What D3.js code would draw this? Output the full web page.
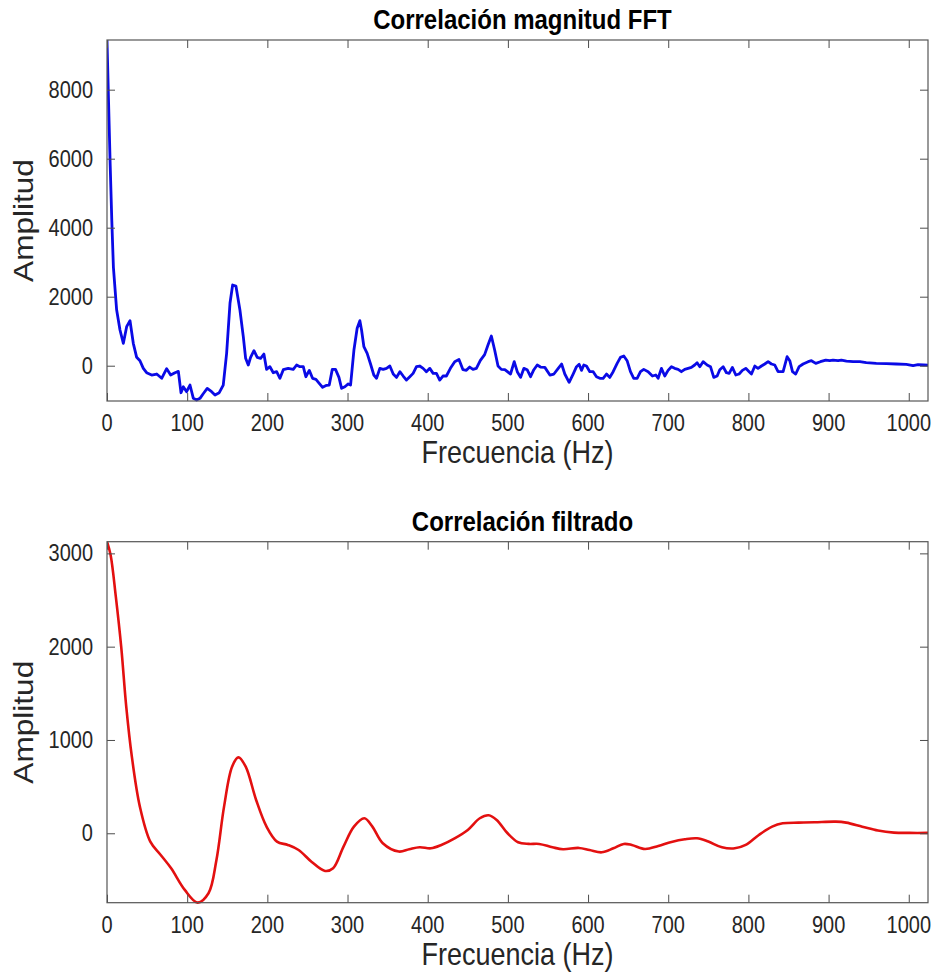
<!DOCTYPE html>
<html>
<head>
<meta charset="utf-8">
<script src="https://cdn.jsdelivr.net/npm/d3@7"></script>
<style>
html,body{margin:0;padding:0;background:#fff;}
svg{display:block;font-family:"Liberation Sans",Arial,Helvetica,sans-serif;}
</style>
</head>
<body>
<svg id="chart" width="939" height="978"></svg>
<script>
// ---- Data ----
const fftFreq = [0,2,4,6,8,12,16.2,20.4,24.5,28.7,32.8,37,41.1,45.3,49.4,55.7,62,68.2,74.4,79.4,84.8,89,92.3,95.2,99.3,103.5,107.7,111.8,116,120,125,130.5,134.7,140,145,149.2,153.4,156.7,160.8,165.8,170,172.9,176.2,179.1,183.3,187.4,191.6,195.7,199,203.2,207.4,211.6,215.7,219.9,226,232.3,236.5,240.6,244.8,248,252.3,256.4,260.6,264.7,268.9,273.9,277.2,281,285,289.3,292.6,296.7,300.9,303.8,308,312,315.4,317.5,320.4,324.5,328.7,332.8,336.2,340.3,344.5,348.6,352.8,357,361,365.3,369.4,373.5,377.7,381.8,386,390,394.3,398.4,402.6,406.8,410.9,415,419,423.3,428.3,433.7,439,444,448.2,452.4,456.5,460.7,465.7,471,475.2,479.4,483.5,487.7,491.8,496.2,503.3,507.9,511.7,515.8,520,524,528.3,532.4,536.6,540.7,546.1,552.4,557.4,562.8,567,571,576.4,581.4,585.6,588.9,591.8,594.7,598,602.2,606.4,610.5,614.7,618.8,623,627,631.3,636.3,640.4,644.6,648.7,652.9,657,661.2,665.4,669.5,674.9,680.3,684.5,687.4,691.5,695.7,699.8,704,708,712.3,716.4,720.6,724.8,728.9,733,736,739.4,743.5,748.5,752.7,756.8,761,764.3,768.5,772.6,776,780,784.3,788.4,792.5,796.7,800.9,803.8,808,812,816.3,820.4,824.6,828.7,832.9,837,843.3,848.3,851.6,855,859,863.3,868.2,874.5,878.6,884,889.8,896.5,901.4,905.6,911.8,916,922.3,930.6,939,947,959.5,972,984.5,997,1005.4,1011.6,1018.7,1024];
const fftAmp = [9440,7600,5800,4200,2850,1620,1035,649,1131,1305,649,243,145,-77,-203,-270,-241,-365,-87,-270,-203,-165,-783,-609,-754,-560,-946,-995,-946,-812,-657,-754,-850,-783,-560,359,1809,2340,2310,1615,841,214,20,243,435,243,214,339,-104,-29,-203,-174,-365,-116,-77,-106,20,-29,-29,-319,-135,-365,-394,-510,-626,-568,-560,-106,-106,-339,-657,-609,-529,-560,455,1084,1305,1035,551,359,49,-270,-365,-77,-106,-77,-9,-241,-339,-174,-299,-416,-319,-222,-29,-9,-77,-174,-77,-222,-222,-416,-299,-299,-77,116,183,-116,-135,-39,-106,-77,155,320,600,861,455,-9,-106,-116,-241,116,-174,-339,-77,-116,-319,-116,20,-39,-48,-270,-241,-77,49,-241,-482,-241,-29,39,-135,20,-9,-174,-174,-319,-365,-365,-241,-339,-174,68,242,280,145,-174,-365,-365,-174,-106,-174,-299,-270,-365,-77,-299,-135,-29,-77,-106,-174,-106,-77,-48,20,87,-29,116,20,-29,-339,-299,-116,-29,-203,-222,-48,-270,-241,-135,-77,-174,-241,-9,-77,-9,49,116,49,20,-174,-174,261,145,-174,-241,-29,49,116,145,68,116,164,145,164,145,164,135,116,116,87,68,58,49,39,0,29,20,15];

const filtFreq = [0,4.5,11,17.7,24,31,41,54,67,80,97,113,126.6,136.5,146,156,164,173,186,199,212,225.6,239,255,272,282,295,308,321,331,344,364,377,390,404,417,433.6,450,465,476,486,499.6,512.7,526,539,555.6,568.8,588.6,601.8,617,631.6,644.6,654.6,671,687.6,704,720.7,736,750,767,783,796.6,813,829.6,842.8,862.6,882.4,909,922,942,961.6,981.5,1001,1024];
const filtAmp = [3125,2983,2536,2000,1357,821,286,-89,-232,-375,-607,-743,-643,-286,286,714,814,714,357,71,-89,-125,-179,-304,-404,-375,-143,71,161,71,-107,-196,-171,-150,-161,-125,-54,36,161,193,143,0,-96,-114,-114,-150,-171,-157,-179,-204,-161,-114,-125,-168,-136,-93,-64,-54,-89,-150,-161,-125,-18,71,107,114,118,125,114,71,29,7,4,4];

const xTicks = [0,100,200,300,400,500,600,700,800,900,1000];
const yTicksTop = [0,2000,4000,6000,8000];
const yTicksBottom = [0,1000,2000,3000];

const titles = ["Correlación magnitud FFT","Correlación filtrado"];
const xLabel = "Frecuencia (Hz)";
const yLabel = "Amplitud";

// ---- Drawing ----
const svg = d3.select("#chart");
const axisColor = "#262626";
const vs = 1.17; // vertical stretch of glyphs seen in the reference

function panel(cfg){
  const {top, bottom, left, right, xDomain, yDomain, yTicks, freq, amp, color, curve, title, lw} = cfg;
  const x = d3.scaleLinear().domain(xDomain).range([left, right]);
  const y = d3.scaleLinear().domain(yDomain).range([bottom, top]);
  const g = svg.append("g");
  const tl = 8;

  const clipId = "clip" + Math.round(top);
  svg.append("clipPath").attr("id", clipId).append("rect")
    .attr("x", left).attr("y", top-2).attr("width", right-left).attr("height", bottom-top+4);
  const line = d3.line().x((d,i)=>x(freq[i])).y((d,i)=>y(amp[i])).curve(curve);
  g.append("path").datum(amp)
    .attr("clip-path", `url(#${clipId})`)
    .attr("fill","none").attr("stroke",color).attr("stroke-width",lw)
    .attr("stroke-linejoin","round").attr("d", line);

  const axB = d3.axisBottom(x).tickValues(xTicks).tickSize(tl).tickFormat("");
  const axT = d3.axisTop(x).tickValues(xTicks).tickSize(tl).tickFormat("");
  const axL = d3.axisLeft(y).tickValues(yTicks).tickSize(tl).tickFormat("");
  const axR = d3.axisRight(y).tickValues(yTicks).tickSize(tl).tickFormat("");

  const gb = g.append("g").attr("transform",`translate(0,${bottom})`).call(axB);
  gb.selectAll(".tick line").attr("y2", -tl);
  const gt = g.append("g").attr("transform",`translate(0,${top})`).call(axT);
  gt.selectAll(".tick line").attr("y2", tl);
  const gl = g.append("g").attr("transform",`translate(${left},0)`).call(axL);
  gl.selectAll(".tick line").attr("x2", tl);
  const gr = g.append("g").attr("transform",`translate(${right},0)`).call(axR);
  gr.selectAll(".tick line").attr("x2", -tl);

  g.selectAll(".domain").remove();
  g.selectAll(".tick line").attr("stroke", "#4d4d4d").attr("stroke-width",1);
  g.selectAll(".tick text").remove();

  g.append("g").selectAll("text").data(xTicks).join("text")
    .attr("transform", d => `translate(${x(d)},${bottom+30}) scale(1,${vs})`)
    .attr("text-anchor","middle").attr("fill",axisColor)
    .style("font-size","20px").text(d => d3.format("d")(d));
  g.append("g").selectAll("text").data(yTicks).join("text")
    .attr("transform", d => `translate(${left-14},${y(d)+8}) scale(1,${vs})`)
    .attr("text-anchor","end").attr("fill",axisColor)
    .style("font-size","20px").text(d => d3.format("d")(d));

  g.append("rect").attr("x",left).attr("y",top).attr("width",right-left).attr("height",bottom-top)
    .attr("fill","none").attr("stroke","#555").attr("stroke-width",1.2);

  g.append("text").attr("transform",`translate(${(left+right)/2+5},${top-11}) scale(1,${vs})`)
    .attr("text-anchor","middle").attr("fill","#000")
    .style("font-weight","bold").style("font-size","24px").text(title);
  g.append("text").attr("transform",`translate(${(left+right)/2},${bottom+62}) scale(1,${vs})`)
    .attr("text-anchor","middle").attr("fill",axisColor)
    .style("font-size","27px").text(xLabel);
  g.append("text").attr("transform",`translate(${left-74},${(top+bottom)/2}) rotate(-90) scale(${vs},1)`)
    .attr("text-anchor","middle").attr("fill",axisColor)
    .style("font-size","27px").text(yLabel);
}

panel({top:40, bottom:401, left:107, right:928, xDomain:[0,1024], yDomain:[-1023,9440],
  yTicks:yTicksTop, freq:fftFreq, amp:fftAmp, color:"#0a0ae6", curve:d3.curveLinear, title:titles[0], lw:2.8});
panel({top:541.7, bottom:902.7, left:107, right:928, xDomain:[0,1024], yDomain:[-744,3125],
  yTicks:yTicksBottom, freq:filtFreq, amp:filtAmp, color:"#e31010", curve:d3.curveCatmullRom, title:titles[1], lw:2.6});
</script>
</body>
</html>
